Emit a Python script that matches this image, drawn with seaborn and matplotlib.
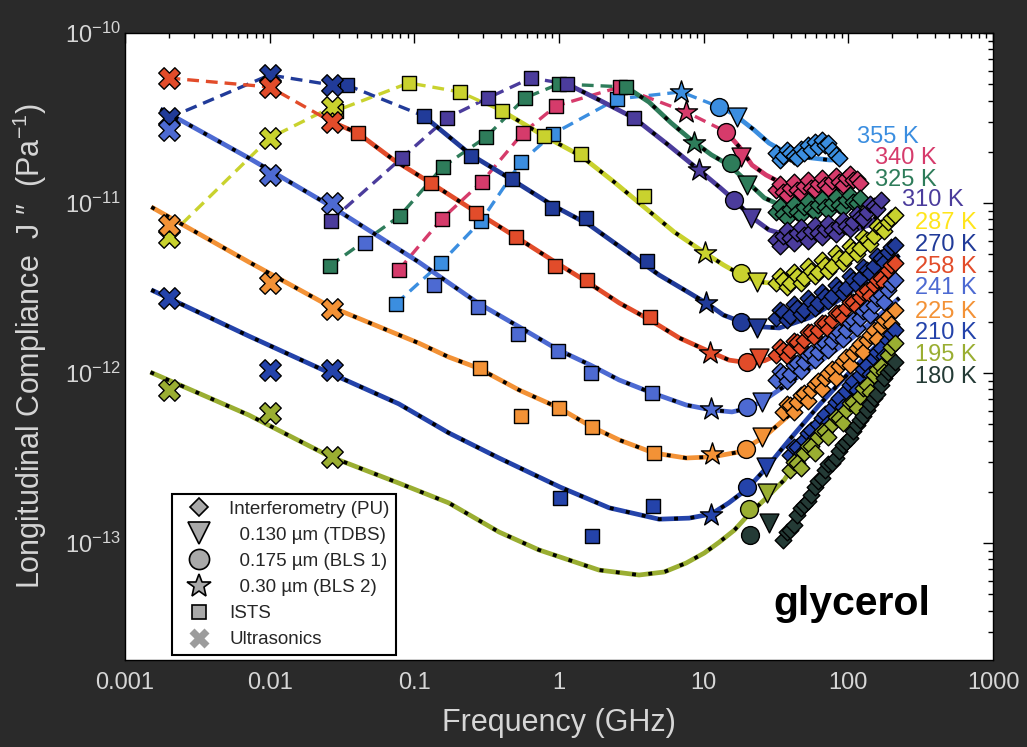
import matplotlib
matplotlib.use("Agg")
import matplotlib.pyplot as plt
from matplotlib.lines import Line2D
from matplotlib.ticker import FixedLocator, FixedFormatter, LogLocator, NullFormatter
import numpy as np
import seaborn as sns

sns.set_style("white")
plt.rcParams["font.family"] = ["Liberation Sans", "DejaVu Sans"]
plt.rcParams["mathtext.fontset"] = "custom"
plt.rcParams["mathtext.rm"] = "Liberation Sans"
plt.rcParams["mathtext.it"] = "Liberation Sans:italic"
plt.rcParams["mathtext.bf"] = "Liberation Sans:bold"
plt.rcParams["mathtext.default"] = "regular"
plt.rcParams["lines.scale_dashes"] = False

BG = "#2a2a2a"
LIGHT = "#d6d6d6"
PJ = 1e-12  # compliance values below are given in units of 1e-12 Pa^-1

TEMPS = ["355 K", "340 K", "325 K", "310 K", "287 K", "270 K",
         "258 K", "241 K", "225 K", "210 K", "195 K", "180 K"]
MARK_COLORS = ["#3b8ee0", "#d63b6b", "#2e7c5a", "#4b3c9c", "#c9d22e", "#213b99",
               "#e24c2a", "#4d6ad2", "#f39236", "#2443aa", "#9aae32", "#243b36"]
LABEL_COLORS = ["#3b8ee0", "#d63b6b", "#2e7c5a", "#4b3c9c", "#ffe51c", "#213b99",
                "#e24c2a", "#4d6ad2", "#f39236", "#2443aa", "#9aae32", "#243b36"]

# Ultrasonics (GHz, 1e-12 Pa^-1)
US_FREQ = [0.002, 0.01, 0.027]
US_J = {
    "287 K": [6.31, 24.1, 36.7],
    "270 K": [31.6, 56.6, 49.4],
    "258 K": [54.3, 48.1, 29.9],
    "241 K": [26.9, 14.6, 10.0],
    "225 K": [7.43, 3.38, 2.38],
    "210 K": [2.76, 1.04, 1.04],
    "195 K": [0.794, 0.582, 0.321],
}

# ISTS
ISTS_F = {
    "355 K": [0.0745, 0.153, 0.289, 0.546, 0.909, 2.52],
    "340 K": [0.0781, 0.155, 0.293, 0.563, 0.953, 2.64],
    "325 K": [0.0260, 0.0794, 0.157, 0.313, 0.582, 1.0, 2.91],
    "310 K": [0.0264, 0.0819, 0.168, 0.323, 0.640, 1.14, 3.30],
    "287 K": [0.0286, 0.0916, 0.206, 0.403, 0.787, 1.42, 3.87],
    "270 K": [0.0341, 0.116, 0.246, 0.473, 0.895, 1.54, 4.06],
    "258 K": [0.0406, 0.130, 0.267, 0.504, 0.938, 1.56, 4.26],
    "241 K": [0.0454, 0.136, 0.275, 0.520, 0.984, 1.66, 4.40],
    "225 K": [0.284, 0.546, 1.0, 1.69, 4.54],
    "210 K": [1.02, 1.69, 4.47],
}
ISTS_J = {
    "355 K": [2.55, 4.44, 7.84, 17.4, 25.5, 40.9],
    "340 K": [4.04, 8.05, 13.3, 25.8, 37.2, 48.1],
    "325 K": [4.26, 8.39, 16.3, 24.4, 41.5, 50.1, 48.1],
    "310 K": [7.84, 18.4, 31.6, 41.5, 54.3, 50.1, 31.6],
    "287 K": [34.8, 50.8, 45.0, 34.8, 24.8, 19.4, 11.0],
    "270 K": [49.4, 32.5, 18.9, 13.8, 9.35, 8.17, 4.56],
    "258 K": [25.8, 13.1, 8.73, 6.31, 4.26, 3.52, 2.13],
    "241 K": [5.82, 3.29, 2.45, 1.70, 1.35, 1.0, 0.763],
    "225 K": [1.07, 0.559, 0.623, 0.481, 0.338],
    "210 K": [0.184, 0.110, 0.165],
}

# Brillouin scattering (0.30 um and 0.175 um) and TDBS (0.130 um): (GHz, 1e-12 Pa^-1)
BLS2 = {"355 K": (6.98, 45.0), "340 K": (7.57, 34.3), "325 K": (8.59, 22.5),
        "310 K": (9.30, 15.6), "287 K": (10.2, 5.08), "270 K": (10.4, 2.58),
        "258 K": (11.1, 1.31), "241 K": (11.3, 0.614), "225 K": (11.5, 0.334),
        "210 K": (11.3, 0.146)}
BLS1 = {"355 K": (12.8, 36.7), "340 K": (14.3, 26.2), "325 K": (15.5, 17.2),
        "310 K": (16.3, 10.4), "287 K": (18.2, 3.87), "270 K": (18.2, 2.0),
        "258 K": (20.0, 1.16), "241 K": (20.0, 0.631), "225 K": (19.7, 0.357),
        "210 K": (20.0, 0.213), "195 K": (20.7, 0.158), "180 K": (21.0, 0.111)}
TDBS = {"355 K": (17.1, 32.1), "340 K": (18.2, 18.7), "325 K": (20.0, 12.8),
        "310 K": (21.3, 8.17), "287 K": (23.5, 3.43), "270 K": (23.5, 1.84),
        "258 K": (24.2, 1.22), "241 K": (25.4, 0.675), "225 K": (25.4, 0.421),
        "210 K": (27.1, 0.280), "195 K": (27.5, 0.197), "180 K": (28.4, 0.131)}

# Interferometry (PU): two interleaved frequency grids and per-temperature values
PU_GRID = [31.8, 35.5, 39.7, 44.3, 49.6, 55.3, 61.8, 69.0, 77.1, 86.7,
           96.5, 108, 121, 134, 150, 167, 187, 209]
PU_GRID_MID = [33.6, 37.5, 41.9, 46.9, 52.4, 58.5, 65.3, 72.9, 81.8, 91.5,
               102, 114, 127, 142, 158, 177, 198]
PU_START = {"355 K": 0, "340 K": 0, "325 K": 0, "310 K": 0, "287 K": 0, "270 K": 0,
            "258 K": 0, "241 K": 0, "225 K": 1, "210 K": 2, "195 K": 2, "180 K": 1}
PU_J = {
    "355 K": [19.7, 18.9, 19.7, 18.4, 19.7, 20.5, 21.3, 21.9, 20.5, 18.4],
    "340 K": [11.9, 11.6, 12.3, 11.9, 12.6, 12.3, 13.0, 12.8, 13.5, 13.3, 14.0, 13.7, 13.1],
    "325 K": [8.85, 8.61, 9.22, 8.85, 9.47, 9.22, 9.73, 9.47, 10.0, 9.73, 10.4, 10.1, 10.7],
    "310 K": [6.06, 6.40, 6.22, 6.67, 6.48, 6.84, 6.67, 7.03, 6.94, 7.33, 7.33, 7.73,
              8.28, 8.85, 9.60, 10.4],
    "287 K": [3.38, 3.52, 3.38, 3.72, 3.62, 3.98, 3.93, 4.32, 4.26, 4.74, 4.74, 5.29,
              5.43, 6.06, 6.40, 7.13, 7.73, 8.50],
    "270 K": [2.11, 2.29, 2.16, 2.41, 2.35, 2.62, 2.58, 2.84, 2.84, 3.12, 3.16, 3.52,
              3.62, 4.04, 4.26, 4.74, 5.15, 5.66],
    "258 K": [1.28, 1.37, 1.37, 1.52, 1.56, 1.74, 1.79, 1.97, 2.05, 2.25, 2.41, 2.62,
              2.80, 3.08, 3.29, 3.62, 4.04, 4.44],
    "241 K": [0.910, 0.986, 0.986, 1.15, 1.16, 1.31, 1.33, 1.50, 1.54, 1.74, 1.79, 2.05,
              2.11, 2.41, 2.51, 2.88, 3.08, 3.52],
    "225 K": [0.590, 0.648, 0.675, 0.763, 0.794, 0.898, 0.935, 1.06, 1.10, 1.24, 1.31,
              1.48, 1.56, 1.79, 1.89, 2.16, 2.35],
    "210 K": [0.329, 0.367, 0.404, 0.462, 0.501, 0.574, 0.623, 0.713, 0.783, 0.898,
              0.973, 1.11, 1.22, 1.40, 1.56, 1.79],
    "195 K": [0.269, 0.296, 0.338, 0.372, 0.421, 0.456, 0.501, 0.543, 0.606, 0.675,
              0.733, 0.850, 0.973, 1.10, 1.28, 1.50],
    "180 K": [0.104, 0.119, 0.146, 0.167, 0.192, 0.232, 0.269, 0.296, 0.347, 0.393,
              0.456, 0.529, 0.606, 0.713, 0.850, 1.01, 1.16],
}
PU_J_MID = {
    "355 K": [18.0, 20.6, 19.0, 20.8, 21.8, 22.9, 23.4, 22.6, 19.2],
    "340 K": [12.9, 11.2, 13.2, 11.5, 13.6, 11.9, 14.1, 12.3, 14.5, 12.7, 14.8, 13.9],
    "325 K": [9.6, 8.2, 9.9, 8.5, 10.2, 8.8, 10.5, 9.0, 10.8, 9.4, 11.1, 10.0],
    "310 K": [5.6, 6.9, 5.8, 7.2, 6.0, 7.4, 6.3, 7.6, 6.6, 7.9, 7.0, 8.6, 8.0, 9.9, 9.2],
    "287 K": [3.70, 3.20, 3.95, 3.40, 4.25, 3.70, 4.60, 4.00, 5.05, 4.45, 5.55, 5.00,
              6.30, 5.75, 7.30, 6.80, 8.20],
    "270 K": [2.35, 2.05, 2.55, 2.22, 2.75, 2.42, 3.00, 2.65, 3.30, 2.95, 3.70, 3.30,
              4.20, 3.85, 4.90, 4.50, 5.50],
    "258 K": [1.42, 1.25, 1.55, 1.40, 1.75, 1.60, 1.98, 1.82, 2.25, 2.10, 2.60, 2.45,
              3.00, 2.85, 3.50, 3.40, 4.30],
    "241 K": [1.02, 0.90, 1.12, 1.03, 1.28, 1.19, 1.46, 1.37, 1.68, 1.58, 1.97, 1.85,
              2.30, 2.20, 2.75, 2.62, 3.35],
    "225 K": [0.66, 0.59, 0.74, 0.68, 0.86, 0.80, 1.00, 0.94, 1.17, 1.11, 1.40, 1.32,
              1.68, 1.58, 2.05, 1.95],
    "210 K": [0.365, 0.335, 0.445, 0.415, 0.545, 0.505, 0.675, 0.630, 0.850, 0.790,
              1.06, 0.99, 1.32, 1.25, 1.70],
    "195 K": [0.300, 0.275, 0.370, 0.340, 0.455, 0.420, 0.550, 0.505, 0.670, 0.620,
              0.820, 0.770, 1.05, 1.01, 1.42],
    "180 K": [0.116, 0.128, 0.160, 0.176, 0.213, 0.242, 0.290, 0.315, 0.375, 0.415,
              0.495, 0.555, 0.660, 0.750, 0.930, 1.06],
}

# Measured points are joined by a dashed guide up to this frequency (GHz)
DASH_END = {"355 K": 17.1, "340 K": 14.3, "325 K": 2.91, "310 K": 1.14,
            "287 K": 0.403, "270 K": 0.116, "258 K": 0.027}

# Model fit curves (GHz, 1e-12 Pa^-1)
FIT_F = {
    "355 K": [17.1, 22.3, 28.3, 36.1, 49.6, 73.9, 93.8],
    "340 K": [14.3, 17.7, 21.6, 27.0, 33.3, 45.8, 73.9, 102, 119],
    "325 K": [2.91, 4.19, 5.95, 8.20, 11.3, 15.0, 20.0, 26.3, 36.1, 53.7, 80.0, 119],
    "310 K": [1.14, 1.89, 3.30, 5.49, 9.30, 13.0, 16.3, 21.3, 28.3, 39.1, 63.0, 102, 140, 178],
    "287 K": [0.403, 0.787, 1.42, 2.40, 3.87, 6.25, 10.2, 13.7, 18.2, 24.4, 33.3, 53.7,
              86.7, 140, 208],
    "270 K": [0.116, 0.246, 0.473, 0.895, 1.62, 2.83, 4.92, 7.95, 10.4, 13.7, 18.2, 24.4,
              33.3, 53.7, 86.7, 140, 225],
    "258 K": [0.027, 0.0406, 0.0721, 0.130, 0.267, 0.504, 0.938, 1.61, 2.61, 4.26, 6.76,
              11.1, 15.0, 20.0, 26.3, 36.1, 53.7, 86.7, 140, 208],
    "241 K": [0.00176, 0.00716, 0.0264, 0.107, 0.275, 0.529, 0.984, 1.66, 2.60, 4.40, 7.57,
              11.3, 15.7, 20.7, 26.2, 39.1, 63.0, 102, 164, 225],
    "225 K": [0.00152, 0.00716, 0.0264, 0.107, 0.173, 0.275, 0.529, 1.0, 1.69, 2.60, 4.54,
              7.57, 11.5, 17.6, 26.2, 39.1, 63.0, 102, 164, 225],
    "210 K": [0.00152, 0.00716, 0.0260, 0.0781, 0.173, 0.385, 1.02, 2.22, 4.92, 7.94, 11.3,
              14.9, 20.0, 27.1, 39.1, 63.0, 102, 164, 225],
    "195 K": [0.00150, 0.00716, 0.0264, 0.0781, 0.173, 0.385, 0.727, 1.89, 3.58, 5.33,
              7.57, 10.1, 12.8, 16.3, 20.0, 26.2, 36.1, 56.3, 86.7, 140, 208],
}
FIT_J = {
    "355 K": [32.1, 26.9, 22.5, 20.0, 18.6, 17.9, 17.9],
    "340 K": [26.2, 21.3, 16.7, 14.6, 13.3, 12.6, 12.3, 12.8, 13.1],
    "325 K": [48.1, 39.2, 29.6, 23.5, 19.2, 16.7, 13.3, 10.7, 9.47, 9.10, 9.35, 10.0],
    "310 K": [50.1, 40.4, 31.6, 22.5, 15.6, 12.3, 10.4, 8.28, 6.94, 6.40, 6.48, 6.75, 7.43, 9.47],
    "287 K": [34.8, 24.8, 18.9, 13.3, 9.47, 6.75, 5.08, 4.32, 3.77, 3.43, 3.34, 3.72,
              4.50, 5.90, 8.28],
    "270 K": [32.5, 19.2, 13.7, 9.73, 7.43, 5.29, 3.77, 2.96, 2.58, 2.19, 2.0, 1.87,
              1.84, 2.11, 2.69, 3.62, 4.94],
    "258 K": [29.9, 25.8, 17.9, 13.1, 8.85, 6.31, 4.50, 3.38, 2.58, 2.05, 1.61,
              1.33, 1.19, 1.15, 1.18, 1.33, 1.67, 2.19, 3.08, 4.32],
    "241 K": [35.7, 18.4, 9.60, 4.50, 2.58, 1.87, 1.37, 1.11, 0.910, 0.763, 0.648,
              0.606, 0.590, 0.623, 0.694, 0.873, 1.16, 1.56, 2.19, 2.76],
    "225 K": [9.47, 4.50, 2.45, 1.50, 1.24, 1.07, 0.794, 0.623, 0.481, 0.404, 0.338,
              0.316, 0.321, 0.343, 0.421, 0.566, 0.817, 1.19, 1.79, 2.35],
    "210 K": [3.08, 1.65, 1.0, 0.658, 0.444, 0.316, 0.213, 0.161, 0.138, 0.140, 0.148,
              0.172, 0.208, 0.276, 0.404, 0.648, 1.01, 1.50, 1.92],
    "195 K": [1.01, 0.566, 0.321, 0.225, 0.172, 0.116, 0.0910, 0.0693, 0.0648, 0.0675,
              0.0762, 0.0873, 0.101, 0.119, 0.144, 0.179, 0.235, 0.421, 0.648, 0.973, 1.46],
}

# Temperature tags on the right (axes-fraction anchor: left edge, vertical centre)
TAG_X = [0.843, 0.864, 0.864, 0.895, 0.910, 0.910, 0.910, 0.910, 0.910, 0.910, 0.910, 0.910]
TAG_Y = [0.834, 0.801, 0.766, 0.734, 0.697, 0.662, 0.627, 0.593, 0.555, 0.522, 0.486, 0.451]

X_TICKS = [0.001, 0.01, 0.1, 1, 10, 100, 1000]
X_TICK_LABELS = ["0.001", "0.01", "0.1", "1", "10", "100", "1000"]
Y_TICKS = [1e-13, 1e-12, 1e-11, 1e-10]
Y_TICK_LABELS = [r"$10^{-13}$", r"$10^{-12}$", r"$10^{-11}$", r"$10^{-10}$"]

LEGEND_LABELS = ["Interferometry (PU)", "  0.130 \u00b5m (TDBS)", "  0.175 \u00b5m (BLS 1)",
                 "  0.30 \u00b5m (BLS 2)", "ISTS", "Ultrasonics"]

# ---------------------------------------------------------------------------
fig = plt.figure(figsize=(10.27, 7.47), dpi=100, facecolor=BG)
ax = fig.add_axes([0.1217, 0.1165, 0.8452, 0.8394])
ax.set_facecolor("white")
ax.set_xscale("log")
ax.set_yscale("log")

EDGE = dict(edgecolor="black", linewidth=1.0, legend=False)


def draw_line(x, y, color, lw, pattern, z):
    sns.lineplot(x=x, y=y, ax=ax, color=color, lw=lw, sort=False,
                 estimator=None, legend=False, zorder=z)
    line = ax.lines[-1]
    if pattern is not None:
        line.set_linestyle((0, pattern))
    line.set_solid_capstyle("butt")
    line.set_dash_capstyle("butt")
    line.set_solid_joinstyle("round")


for T, mc in zip(TEMPS, MARK_COLORS):
    # dashed guide through the measured points
    if T in DASH_END:
        pts = []
        if T in US_J:
            pts += list(zip(US_FREQ, US_J[T]))
        if T in ISTS_F:
            pts += list(zip(ISTS_F[T], ISTS_J[T]))
        for src in (BLS2, BLS1, TDBS):
            if T in src:
                pts.append(src[T])
        seg = sorted(p for p in pts if p[0] <= DASH_END[T] * 1.001)
        draw_line([p[0] for p in seg], [p[1] * PJ for p in seg], mc, 2.4, (8.5, 5.0), 2)

    # fitted curve: coloured line with black dashes on top
    if T in FIT_F:
        fy = np.array(FIT_J[T]) * PJ
        draw_line(FIT_F[T], fy, mc, 3.4, None, 2)
        draw_line(FIT_F[T], fy, "black", 2.7, (2.8, 9.0), 2.1)

for T, mc in zip(TEMPS, MARK_COLORS):
    s0 = PU_START[T]
    pu = list(zip(PU_GRID[s0:s0 + len(PU_J[T])], PU_J[T]))
    pu += list(zip(PU_GRID_MID[s0:s0 + len(PU_J_MID[T])], PU_J_MID[T]))
    pu.sort()
    sns.scatterplot(x=[p[0] for p in pu], y=[p[1] * PJ for p in pu], ax=ax, marker="D",
                    s=72, color=mc, zorder=3, **EDGE)
    if T in ISTS_F:
        sns.scatterplot(x=ISTS_F[T], y=np.array(ISTS_J[T]) * PJ, ax=ax, marker="s",
                        s=92, color=mc, zorder=4, **EDGE)
    if T in US_J:
        sns.scatterplot(x=US_FREQ, y=np.array(US_J[T]) * PJ, ax=ax, marker="X",
                        s=240, color=mc, zorder=4, **EDGE)
    for src, mk, sz in ((BLS2, "*", 280), (BLS1, "o", 165), (TDBS, "v", 185)):
        if T in src:
            f, j = src[T]
            sns.scatterplot(x=[f], y=[j * PJ], ax=ax, marker=mk, s=sz, color=mc,
                            zorder=5, **EDGE)

# axes, ticks, labels
ax.set_xlim(1e-3, 1e3)
ax.set_ylim(2.05e-14, 1e-10)
ax.xaxis.set_major_locator(FixedLocator(X_TICKS))
ax.xaxis.set_major_formatter(FixedFormatter(X_TICK_LABELS))
ax.yaxis.set_major_locator(FixedLocator(Y_TICKS))
ax.yaxis.set_major_formatter(FixedFormatter(Y_TICK_LABELS))
for axis in (ax.xaxis, ax.yaxis):
    axis.set_minor_locator(LogLocator(base=10, subs=np.arange(2, 10), numticks=20))
    axis.set_minor_formatter(NullFormatter())
ax.tick_params(which="both", direction="in", top=True, right=True,
               color="black", labelcolor=LIGHT, labelsize=17, width=1.0)
ax.tick_params(which="major", length=7)
ax.tick_params(which="minor", length=3.5)
ax.tick_params(axis="x", pad=9)
ax.tick_params(axis="y", pad=3)
for sp in ax.spines.values():
    sp.set_color("black")
    sp.set_linewidth(1.0)

ax.set_xlabel("Frequency (GHz)", color=LIGHT, fontsize=22, labelpad=10)
ax.set_ylabel("Longitudinal Compliance  J \u2033  (Pa$^{-1}$)", color=LIGHT, fontsize=22)
ax.yaxis.set_label_coords(-0.088, 0.5)

for T, lc, tx, ty in zip(TEMPS, LABEL_COLORS, TAG_X, TAG_Y):
    ax.text(tx, ty, T, color=lc, fontsize=17, ha="left", va="center",
            transform=ax.transAxes, zorder=6)

ax.text(0.7465, 0.072, "glycerol", color="black", fontsize=29.5, fontweight="bold",
        ha="left", va="baseline", transform=ax.transAxes, zorder=6)

GRAY = "#a9a9a9"
handles = [
    Line2D([], [], ls="none", marker="D", ms=9, mfc=GRAY, mec="black", mew=1.2),
    Line2D([], [], ls="none", marker="v", ms=16, mfc=GRAY, mec="black", mew=1.2),
    Line2D([], [], ls="none", marker="o", ms=14.5, mfc=GRAY, mec="black", mew=1.2),
    Line2D([], [], ls="none", marker="*", ms=18, mfc=GRAY, mec="black", mew=1.2),
    Line2D([], [], ls="none", marker="s", ms=9.5, mfc=GRAY, mec="black", mew=1.2),
    Line2D([], [], ls="none", marker="X", ms=15, mfc="#9c9c9c", mec="none"),
]
leg = ax.legend(handles, LEGEND_LABELS, loc="lower left", bbox_to_anchor=(0.054, 0.008),
                frameon=True, fancybox=False, edgecolor="black", framealpha=1,
                facecolor="white", fontsize=13.5, handlelength=2.2, handletextpad=0.5,
                labelspacing=0.48, borderpad=0.35, borderaxespad=0)
leg.get_frame().set_linewidth(1.5)
leg.set_zorder(7)

fig.savefig("out.png", dpi=100, facecolor=BG)
